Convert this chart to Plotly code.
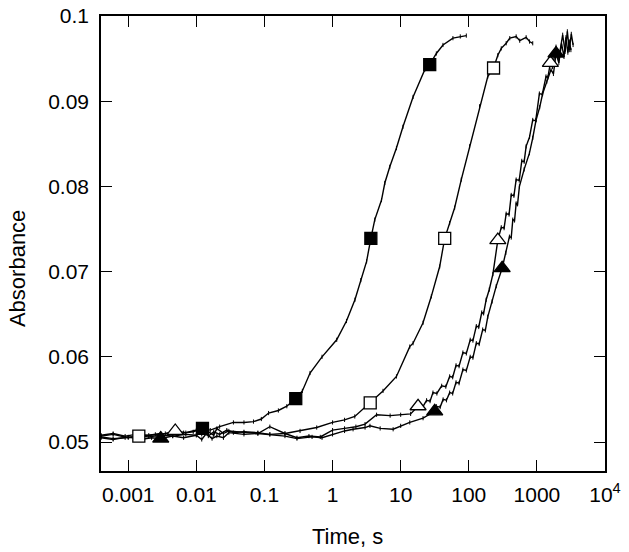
import plotly.graph_objects as go

# ---- data ----
tA = [0.0004, 0.0006, 0.0009, 0.0013, 0.002, 0.003, 0.0045, 0.0065, 0.009, 0.0123, 0.016, 0.022, 0.035,
      0.05, 0.069, 0.09, 0.115, 0.16, 0.213, 0.288, 0.36, 0.467, 0.7, 1.15, 1.6, 2.13, 2.6, 3.16, 3.65,
      4.17, 5.23, 5.85, 6.92, 8.67, 10.8, 15.2, 22.6, 26.7, 33.4, 41.8, 58.5, 75, 92]
yA = [0.0508, 0.0510, 0.0507, 0.0509, 0.0508, 0.0510, 0.0509, 0.0511, 0.0512, 0.0516, 0.0514, 0.0518, 0.0523,
      0.0523, 0.0524, 0.0527, 0.0534, 0.0537, 0.0542, 0.0551, 0.0560, 0.0581, 0.0600, 0.0620, 0.0642, 0.0667,
      0.0690, 0.0712, 0.0739, 0.0761, 0.0784, 0.0804, 0.0823, 0.0845, 0.0870, 0.0905, 0.0937, 0.0943, 0.0956,
      0.0966, 0.0974, 0.0976, 0.0977]
mA_t = [0.0123, 0.288, 3.65, 26.7]
mA_y = [0.0516, 0.0551, 0.0739, 0.0943]

tB = [0.0004, 0.0006, 0.0009, 0.00143, 0.002, 0.003, 0.0045, 0.007, 0.01, 0.013, 0.015, 0.018, 0.022, 0.028,
      0.035, 0.05, 0.08, 0.12, 0.2, 0.333, 0.585, 1.0, 1.5, 2.12, 3.57, 5.5, 8.67, 13.6, 15.2, 21.3, 28.2,
      37.4, 44.3, 52.4, 62, 77.6, 102.8, 144, 190, 231, 267, 300, 354, 400, 496, 560, 695, 780, 869]
yB = [0.0506, 0.0504, 0.0505, 0.0507, 0.0506, 0.0508, 0.0507, 0.0509, 0.0508, 0.0513, 0.0507, 0.0512, 0.0509,
      0.0514, 0.0511, 0.0512, 0.0511, 0.0509, 0.0510, 0.0513, 0.0517, 0.0523, 0.0526, 0.0530, 0.0546, 0.0560,
      0.0577, 0.0612, 0.0616, 0.0640, 0.0671, 0.0706, 0.0739, 0.0757, 0.0775, 0.0808, 0.0847, 0.0894, 0.0929,
      0.0939, 0.0954, 0.0962, 0.0968, 0.0974, 0.0976, 0.0971, 0.0975, 0.0970, 0.0968]
mB_t = [0.00143, 3.57, 44.3, 231]
mB_y = [0.0507, 0.0546, 0.0739, 0.0939]

tC = [0.0004, 0.0006, 0.001, 0.0016, 0.0025, 0.0035, 0.0049, 0.007, 0.01, 0.012, 0.015, 0.018, 0.02, 0.025,
      0.03, 0.05, 0.08, 0.12, 0.2, 0.3, 0.45, 0.66, 1.0, 1.5, 2.2, 3.0, 4.43, 7, 10, 14, 18, 21, 24, 27,
      29.8, 34, 40, 46, 52.4, 58, 65, 72, 82, 92, 105, 115, 129, 140, 155, 165, 180, 200, 226, 267, 300,
      330, 354, 390, 420, 460, 496, 550, 600, 650, 695, 780, 869, 960, 1088, 1200, 1361, 1450, 1578, 1700,
      1910, 2100, 2390, 2600, 2800, 2990, 3200, 3400]
yC = [0.0507, 0.0509, 0.0505, 0.0507, 0.0509, 0.0510, 0.0513, 0.0511, 0.0514, 0.0509, 0.0512, 0.0508,
      0.0516, 0.0510, 0.0513, 0.0511, 0.0510, 0.0518, 0.0510, 0.0505, 0.0507, 0.0506, 0.0514, 0.0516, 0.0518,
      0.0521, 0.0532, 0.0531, 0.0532, 0.0533, 0.0542, 0.0541, 0.0549, 0.0548, 0.0558, 0.0557, 0.0566, 0.0565,
      0.0577, 0.0576, 0.0590, 0.0589, 0.0605, 0.0604, 0.0620, 0.0619, 0.0636, 0.0635, 0.0652, 0.0651, 0.0667,
      0.0679, 0.0697, 0.0737, 0.0752, 0.0751, 0.0768, 0.0767, 0.0790, 0.0789, 0.0808, 0.0807, 0.0830, 0.0829,
      0.0847, 0.0858, 0.0878, 0.0877, 0.0909, 0.0908, 0.0929, 0.0928, 0.0945, 0.0940, 0.0964, 0.0950, 0.0978,
      0.0958, 0.0982, 0.0960, 0.0979, 0.0966]
mC_t = [0.0049, 18, 267, 1578]
mC_y = [0.0513, 0.0542, 0.0737, 0.0945]

tD = [0.0004, 0.0006, 0.001, 0.0015, 0.0022, 0.003, 0.0045, 0.0065, 0.01, 0.012, 0.014, 0.017, 0.02, 0.025,
      0.03, 0.05, 0.08, 0.12, 0.2, 0.3, 0.5, 0.7, 1.0, 1.5, 2.0, 3.0, 3.54, 5, 7.75, 10, 13.6, 21.3, 31.6,
      33.4, 38, 42, 47, 52.4, 58, 65, 72, 82, 92, 105, 115, 129, 142, 160, 175, 190, 220, 253, 309, 350, 395,
      420, 443, 470, 496, 520, 554, 650, 777, 870, 973, 1100, 1217, 1400, 1610, 1750, 1910, 2100, 2300, 2500,
      2670, 2850, 3000, 3160]
yD = [0.0505, 0.0503, 0.0506, 0.0503, 0.0505, 0.0504, 0.0507, 0.0505, 0.0508, 0.0503, 0.0510, 0.0504,
      0.0507, 0.0505, 0.0511, 0.0509, 0.0510, 0.0509, 0.0507, 0.0504, 0.0506, 0.0505, 0.0509, 0.0513, 0.0515,
      0.0517, 0.0519, 0.0516, 0.0515, 0.0519, 0.0523, 0.0528, 0.0536, 0.0542, 0.0541, 0.0550, 0.0549, 0.0558,
      0.0557, 0.0570, 0.0569, 0.0585, 0.0584, 0.0600, 0.0599, 0.0616, 0.0615, 0.0632, 0.0631, 0.0647, 0.0665,
      0.0683, 0.0704, 0.0722, 0.0741, 0.0740, 0.0761, 0.0760, 0.0780, 0.0779, 0.0800, 0.0820, 0.0839, 0.0857,
      0.0878, 0.0893, 0.0909, 0.0923, 0.0937, 0.0932, 0.0956, 0.0945, 0.0968, 0.0952, 0.0975, 0.0957, 0.0970,
      0.0960]
mD_t = [0.003, 31.6, 309, 1910]
mD_y = [0.0504, 0.0536, 0.0704, 0.0956]

x_tickvals = [0.001, 0.01, 0.1, 1, 10, 100, 1000, 10000]
x_ticktext = ["0.001", "0.01", "0.1", "1", "10", "100", "1000", "10<sup>4</sup>"]
y_tickvals = [0.05, 0.06, 0.07, 0.08, 0.09, 0.1]
y_ticktext = ["0.05", "0.06", "0.07", "0.08", "0.09", "0.1"]

FONT = "Liberation Sans, Arial, sans-serif"

fig = go.Figure()
series = [
    (tA, yA, mA_t, mA_y, "square", "black"),
    (tB, yB, mB_t, mB_y, "square", "white"),
    (tC, yC, mC_t, mC_y, "triangle-up", "white"),
    (tD, yD, mD_t, mD_y, "triangle-up", "black"),
]
for t, y, mt, my, sym, fill in series:
    fig.add_trace(go.Scatter(x=t, y=y, mode="lines+markers",
                             line=dict(color="black", width=1.4),
                             marker=dict(symbol="line-ns", size=3, line=dict(color="black", width=1)),
                             showlegend=False, hoverinfo="skip"))
for t, y, mt, my, sym, fill in series:
    fig.add_trace(go.Scatter(x=mt, y=my, mode="markers",
                             marker=dict(symbol=sym, size=12 if sym == "square" else 14, color=fill,
                                         line=dict(color="black", width=1.3)),
                             showlegend=False))

axis_common = dict(showline=True, linecolor="black", linewidth=1.5, mirror="ticks",
                   ticks="inside", ticklen=11, tickwidth=1.3, tickcolor="black",
                   showgrid=False, zeroline=False, automargin=False,
                   tickfont=dict(family=FONT, size=21, color="black"))

fig.update_layout(
    width=629, height=552,
    margin=dict(l=101, r=24, t=16, b=81),
    paper_bgcolor="white", plot_bgcolor="white",
    xaxis=dict(type="log", range=[-3.4, 4], tickvals=x_tickvals, ticktext=x_ticktext,
               ticklabelstandoff=4, **axis_common),
    yaxis=dict(range=[0.0466, 0.1], tickvals=y_tickvals, ticktext=y_ticktext,
               ticklabelstandoff=6, **axis_common),
    annotations=[
        dict(text="Time, s", xref="paper", yref="paper", x=0.49, y=-0.145,
             xanchor="center", yanchor="middle", showarrow=False,
             font=dict(family=FONT, size=22, color="black")),
        dict(text="Absorbance", xref="paper", yref="paper", x=-0.1667, y=0.446,
             xanchor="center", yanchor="middle", textangle=-90, showarrow=False,
             font=dict(family=FONT, size=22, color="black")),
    ],
)

fig.write_html("out.html", config={"displayModeBar": False},
               post_script="document.body.style.margin='0px';")
